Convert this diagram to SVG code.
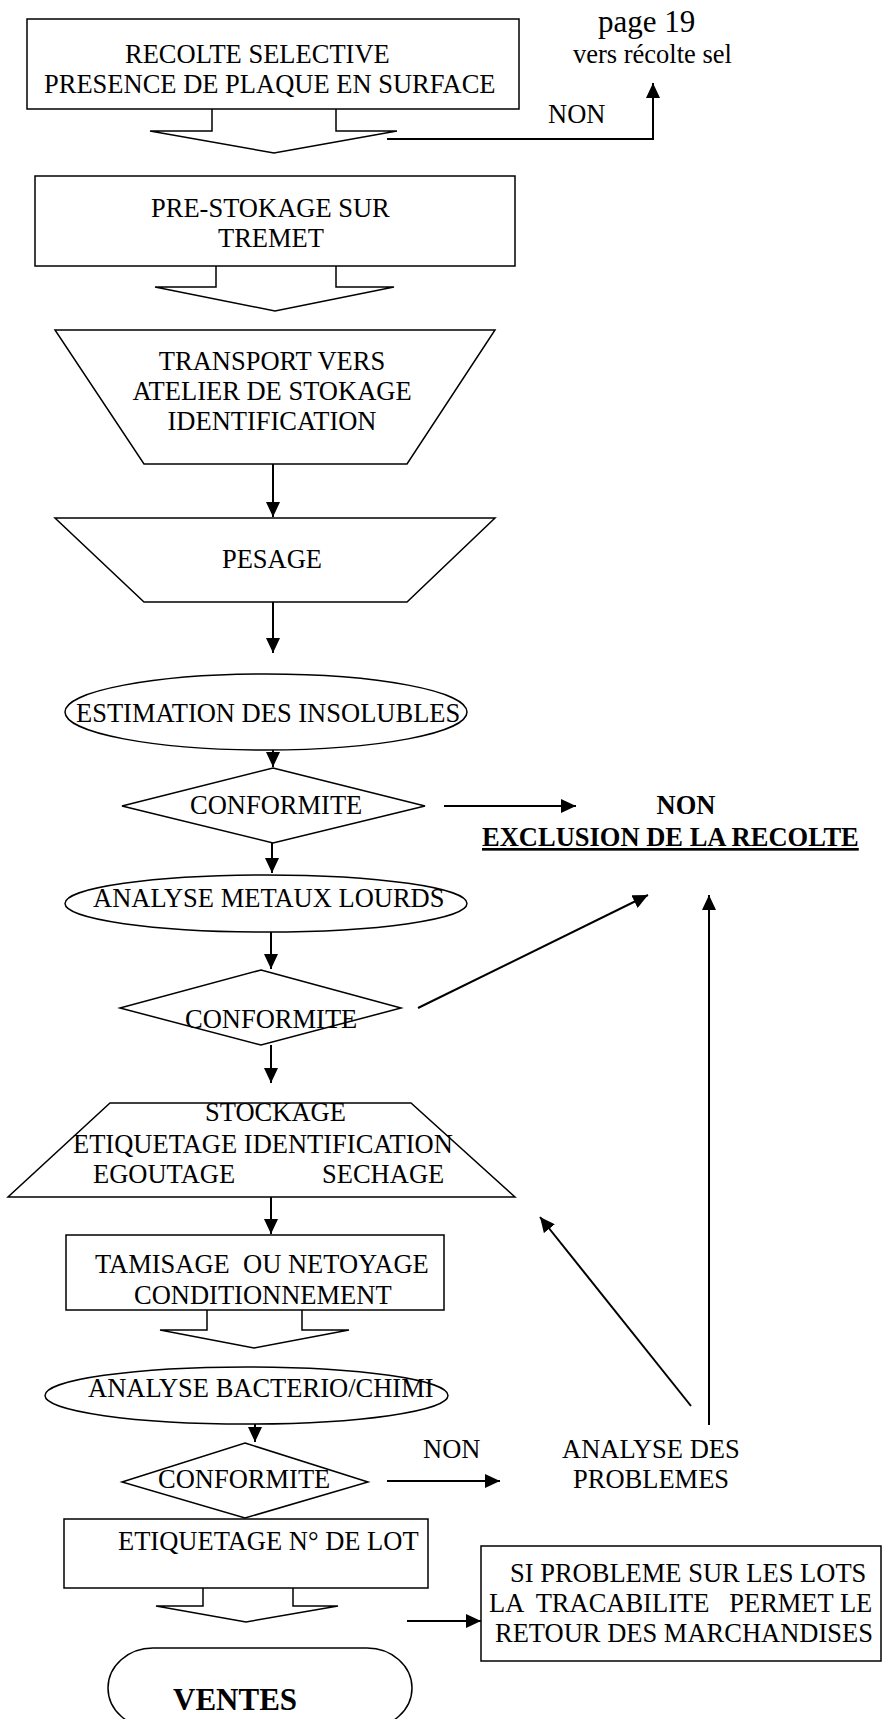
<svg xmlns="http://www.w3.org/2000/svg" width="883" height="1719" viewBox="0 0 883 1719">
  <style>
    .shape { fill: #fff; stroke: #000; stroke-width: 1.5; stroke-linejoin: miter; }
    .open { fill: none; stroke: #000; stroke-width: 1.5; }
    .conn { fill: none; stroke: #000; stroke-width: 2; }
    text { font-family: "Liberation Serif", "Times New Roman", serif; font-size: 26.5px; fill: #000; }
    .mid { text-anchor: middle; }
    .bold { font-weight: bold; }
    .big { font-size: 31px; }
  </style>
  <defs>
    <marker id="arrow" markerUnits="userSpaceOnUse" viewBox="0 0 15 14" markerWidth="15" markerHeight="14" refX="15" refY="7" orient="auto">
      <path d="M0,0 L15,7 L0,14 Z" fill="#000"/>
    </marker>
  </defs>
  <rect width="883" height="1719" fill="#fff"/>

  <!-- process nodes -->
  <g id="recolte">
    <rect class="shape" x="27" y="19" width="492" height="90"/>
    <polyline class="open" points="212,109 212,131 150,131 274,153 397,131 336,131 336,109"/>
    <text x="125" y="63">RECOLTE SELECTIVE</text>
    <text x="44" y="93">PRESENCE DE PLAQUE EN SURFACE</text>
  </g>

  <g id="page-ref">
    <text class="big" x="598" y="32">page 19</text>
    <text x="573" y="63">vers récolte sel</text>
  </g>

  <g id="prestockage">
    <rect class="shape" x="35" y="176" width="480" height="90"/>
    <polyline class="open" points="216,266 216,287 155,287 275,311 394,287 336,287 336,266"/>
    <text x="151" y="217">PRE-STOKAGE SUR</text>
    <text x="218" y="247">TREMET</text>
  </g>

  <g id="transport">
    <polygon class="shape" points="55,330 495,330 407,464 144,464"/>
    <text class="mid" x="272" y="370">TRANSPORT VERS</text>
    <text class="mid" x="272" y="400">ATELIER DE STOKAGE</text>
    <text class="mid" x="272" y="430">IDENTIFICATION</text>
  </g>

  <g id="pesage">
    <polygon class="shape" points="55,518 495,518 407,602 144,602"/>
    <text class="mid" x="272" y="568">PESAGE</text>
  </g>

  <g id="estimation">
    <ellipse class="shape" cx="266" cy="712" rx="201" ry="38"/>
    <text x="76" y="722">ESTIMATION DES INSOLUBLES</text>
  </g>

  <g id="conformite-1">
    <polygon class="shape" points="273,768 425,806 273,843 122,806"/>
    <text x="190" y="814">CONFORMITE</text>
  </g>

  <g id="exclusion">
    <text class="mid bold" x="686" y="814">NON</text>
    <text class="bold" x="482" y="846" text-decoration="underline">EXCLUSION DE LA RECOLTE</text>
  </g>

  <g id="metaux">
    <ellipse class="shape" cx="266" cy="903.5" rx="201" ry="28.5"/>
    <text x="93" y="907">ANALYSE METAUX LOURDS</text>
  </g>

  <g id="conformite-2">
    <polygon class="shape" points="261,970 401,1008 261,1045 120,1008"/>
    <text x="185" y="1028">CONFORMITE</text>
  </g>

  <g id="stockage">
    <polygon class="shape" points="110,1103 411,1103 515,1197 8,1197"/>
    <text x="205" y="1121">STOCKAGE</text>
    <text x="73" y="1153">ETIQUETAGE IDENTIFICATION</text>
    <text x="93" y="1183">EGOUTAGE</text>
    <text x="322" y="1183">SECHAGE</text>
  </g>

  <g id="tamisage">
    <rect class="shape" x="66" y="1235" width="378" height="75"/>
    <polyline class="open" points="207,1310 207,1330 160,1330 254,1348 349,1330 302,1330 302,1310"/>
    <text x="95" y="1273" xml:space="preserve">TAMISAGE  OU NETOYAGE</text>
    <text x="134" y="1304">CONDITIONNEMENT</text>
  </g>

  <g id="bacterio">
    <ellipse class="shape" cx="246.5" cy="1395.5" rx="201.5" ry="28.5"/>
    <text x="88" y="1397">ANALYSE BACTERIO/CHIMI</text>
  </g>

  <g id="conformite-3">
    <polygon class="shape" points="245,1443 368,1482 245,1518 122,1482"/>
    <text x="158" y="1488">CONFORMITE</text>
  </g>

  <g id="analyse-problemes">
    <text x="562" y="1458">ANALYSE DES</text>
    <text x="573" y="1488">PROBLEMES</text>
  </g>

  <g id="etiquetage-lot">
    <rect class="shape" x="64" y="1519" width="364" height="69"/>
    <polyline class="open" points="203,1588 203,1606 156,1606 246,1622 338,1606 293,1606 293,1588"/>
    <text x="118" y="1550">ETIQUETAGE N° DE LOT</text>
  </g>

  <g id="tracabilite">
    <rect class="shape" x="481" y="1546" width="400" height="115"/>
    <text x="510" y="1582">SI PROBLEME SUR LES LOTS</text>
    <text x="489" y="1612" xml:space="preserve">LA  TRACABILITE   PERMET LE</text>
    <text x="495" y="1642">RETOUR DES MARCHANDISES</text>
  </g>

  <g id="ventes">
    <rect class="shape" x="108" y="1648" width="304" height="80" rx="45" ry="40"/>
    <text class="bold big" x="173" y="1710">VENTES</text>
  </g>

  <!-- connectors -->
  <g id="connectors">
    <polyline class="conn" points="387,139 653,139 653,83" marker-end="url(#arrow)"/>
    <text x="548" y="123">NON</text>
    <line class="conn" x1="273" y1="464" x2="273" y2="517" marker-end="url(#arrow)"/>
    <line class="conn" x1="273" y1="602" x2="273" y2="653" marker-end="url(#arrow)"/>
    <line class="conn" x1="273" y1="750" x2="273" y2="767" marker-end="url(#arrow)"/>
    <line class="conn" x1="444" y1="806" x2="576" y2="806" marker-end="url(#arrow)"/>
    <line class="conn" x1="272" y1="843" x2="272" y2="873" marker-end="url(#arrow)"/>
    <line class="conn" x1="271" y1="932" x2="271" y2="969" marker-end="url(#arrow)"/>
    <line class="conn" x1="418" y1="1008" x2="648" y2="895" marker-end="url(#arrow)"/>
    <line class="conn" x1="709" y1="1425" x2="709" y2="895" marker-end="url(#arrow)"/>
    <line class="conn" x1="271" y1="1045" x2="271" y2="1083" marker-end="url(#arrow)"/>
    <line class="conn" x1="271" y1="1197" x2="271" y2="1234" marker-end="url(#arrow)"/>
    <line class="conn" x1="691" y1="1406" x2="540" y2="1217" marker-end="url(#arrow)"/>
    <line class="conn" x1="255" y1="1424" x2="255" y2="1442" marker-end="url(#arrow)"/>
    <line class="conn" x1="387" y1="1481" x2="500" y2="1481" marker-end="url(#arrow)"/>
    <text x="423" y="1458">NON</text>
    <line class="conn" x1="407" y1="1621" x2="481" y2="1621" marker-end="url(#arrow)"/>
  </g>
</svg>
